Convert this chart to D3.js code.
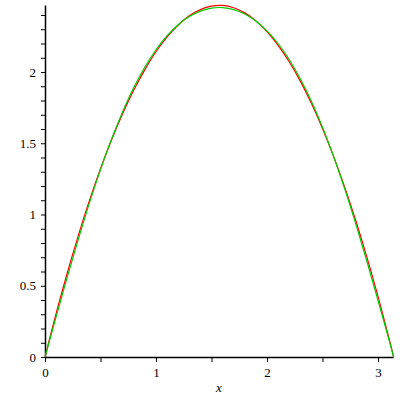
<!DOCTYPE html>
<html><head><meta charset="utf-8">
<script src="https://cdn.jsdelivr.net/npm/d3@7"></script>
<style>body{margin:0;background:#fff}svg{display:block}</style>
</head><body>
<svg id="c" width="400" height="400"></svg>
<script>
const xs = [0,0.1,0.2,0.3,0.4,0.5,0.6,0.7,0.8,0.9,1.0,1.1,1.2,1.3,1.4,1.5,1.6,1.7,1.8,1.9,2.0,2.1,2.2,2.3,2.4,2.5,2.6,2.7,2.8,2.9,3.0,3.1,3.1416];
const redY = [0,0.304,0.588,0.852,1.097,1.321,1.525,1.709,1.873,2.017,2.142,2.246,2.330,2.394,2.438,2.462,2.467,2.451,2.415,2.359,2.283,2.187,2.072,1.936,1.780,1.604,1.408,1.192,0.956,0.701,0.425,0.129,0];
const greenY = [0,0.282,0.559,0.826,1.080,1.315,1.530,1.722,1.891,2.035,2.156,2.255,2.332,2.389,2.427,2.448,2.452,2.438,2.407,2.358,2.289,2.200,2.088,1.953,1.795,1.612,1.407,1.180,0.934,0.672,0.398,0.118,0];
const xTickLabels = [0,1,2,3];
const yTickLabels = [0,0.5,1,1.5,2];
const xLabel = "x";

const svg = d3.select("#c");
const x = d3.scaleLinear().domain([0, 3.1416]).range([45, 393.7]);
const y = d3.scaleLinear().domain([0, 2.4674]).range([357, 5.4]);
const font = "'Liberation Serif', 'DejaVu Serif', serif";

// x axis
const xAxis = d3.axisBottom(x).tickValues(d3.range(0, 3.01, 0.5)).tickSize(5)
  .tickFormat(d => xTickLabels.includes(d) ? d : "");
const gx = svg.append("g").attr("transform", "translate(0,357)").call(xAxis);
gx.select(".domain").attr("d", `M${x(0)},0.5H${x(3.1416)}`).attr("stroke","#000").attr("stroke-width",1.5);
gx.selectAll(".tick line").attr("stroke","#000");
gx.selectAll(".tick text").attr("font-family", font).attr("font-size", 13).attr("fill","#000").attr("dy","0.9em");

// y axis
const yAxis = d3.axisLeft(y).tickValues(d3.range(0, 2.46, 0.1).map(v => Math.round(v*10)/10)).tickSize(4)
  .tickFormat(d => yTickLabels.includes(d) ? d : "");
const gy = svg.append("g").attr("transform", "translate(45,0)").call(yAxis);
gy.select(".domain").attr("d", `M0.5,${y(0)}V${y(2.4674)}`).attr("stroke","#000").attr("stroke-width",1.5);
gy.selectAll(".tick line").attr("stroke","#000");
gy.selectAll(".tick text").attr("font-family", font).attr("font-size", 13).attr("fill","#000").attr("x", -9);

const line = d3.line().x((d,i) => x(xs[i])).y(d => y(d)).curve(d3.curveCatmullRom);
svg.append("path").datum(redY).attr("d", line).attr("fill","none").attr("stroke","#ff0000").attr("stroke-width",1.2);
svg.append("path").datum(greenY).attr("d", line).attr("fill","none").attr("stroke","#00cc00").attr("stroke-width",1.2);

svg.append("text").attr("x", 219).attr("y", 392).attr("text-anchor","middle")
  .attr("font-family", font).attr("font-style","italic").attr("font-size", 13).text(xLabel);
</script>
</body></html>
